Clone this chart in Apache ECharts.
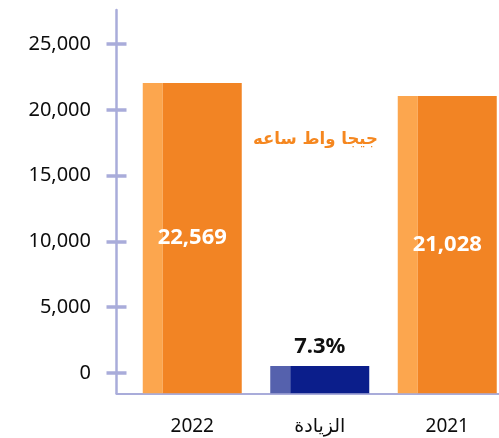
<!DOCTYPE html>
<html>
<head>
<meta charset="utf-8">
<script src="https://cdn.jsdelivr.net/npm/echarts@6/dist/echarts.min.js"></script>
<style>
  html, body { margin: 0; padding: 0; background: #fff; }
  #chart { width: 499px; height: 438px; }
</style>
</head>
<body>
<div id="chart"></div>
<script>
// categories (x axis)
const categories = ['2022', 'الزيادة', '2021']
// bar heights
const barValues = [22040, 530, 21050]
// labels printed on / above the bars
const barLabels = ['22,569', '7.3%', '21,028']
// y axis tick labels range
const tickMin = 0
const tickMax = 25000
const tickStep = 5000
const unitText = 'جيجا واط ساعه'

const axisColor = '#a9acda'
const orange = ['#fca64e', '#f28424']
const blue = ['#5561ad', '#0b1e8b']

const chart = echarts.init(document.getElementById('chart'))

chart.setOption({
  animation: false,
  grid: [
    // main plot area, axis runs a bit below zero
    { left: 116.5, right: 0, top: 10, bottom: 44.7 },
    // exact 0..25000 span, only used for the tick marks and labels
    { left: 116.5, right: 0, top: 44, bottom: 65 }
  ],
  xAxis: [{
    type: 'category',
    gridIndex: 0,
    data: categories,
    axisLine: { onZero: false, lineStyle: { color: axisColor, width: 2 } },
    axisTick: { show: false },
    axisLabel: {
      margin: 24,
      padding: [0, 0, 0, 24],
      color: '#0d0d0d',
      fontSize: 19,
      fontFamily: '"Noto Sans", "DejaVu Sans", sans-serif'
    }
  }, {
    type: 'category',
    gridIndex: 1,
    data: categories,
    show: false
  }],
  yAxis: [{
    type: 'value',
    gridIndex: 0,
    min: -1543,
    max: 27584,
    axisLine: { show: true, lineStyle: { color: axisColor, width: 2.5 } },
    axisTick: { show: false },
    axisLabel: { show: false },
    splitLine: { show: false }
  }, {
    type: 'value',
    gridIndex: 1,
    min: tickMin,
    max: tickMax,
    interval: tickStep,
    offset: -10,
    axisLine: { show: false },
    axisTick: { show: true, length: 20, lineStyle: { color: axisColor, width: 3.5 } },
    axisLabel: {
      margin: 35.5,
      color: '#0d0d0d',
      fontSize: 20,
      fontFamily: '"Noto Sans", sans-serif',
      formatter: v => v.toLocaleString('en-US')
    },
    splitLine: { show: false }
  }],
  graphic: [{
    type: 'text',
    left: 253,
    top: 131,
    style: {
      text: unitText,
      fill: '#f5871f',
      font: 'bold 16.5px "DejaVu Sans", sans-serif'
    }
  }],
  series: [{
    type: 'custom',
    xAxisIndex: 0,
    yAxisIndex: 0,
    data: barValues.map((v, i) => [i, v]),
    renderItem: (params, api) => {
      const idx = params.dataIndex
      const top = api.coord([api.value(0), api.value(1)])
      const cs = params.coordSys
      const bottom = cs.y + cs.height
      const w = 99
      const stripe = 20
      const x = top[0] + 12 - w / 2
      const h = bottom - top[1]
      const pal = idx === 1 ? blue : orange
      const children = [{
        type: 'rect',
        shape: { x: x, y: top[1], width: stripe, height: h },
        style: { fill: pal[0] }
      }, {
        type: 'rect',
        shape: { x: x + stripe, y: top[1], width: w - stripe, height: h },
        style: { fill: pal[1] }
      }]
      if (idx === 1) {
        children.push({
          type: 'text',
          x: x + w / 2,
          y: top[1] - 8,
          style: {
            text: barLabels[idx],
            fill: '#111',
            font: 'bold 22px "Noto Sans", sans-serif',
            align: 'center',
            verticalAlign: 'bottom'
          }
        })
      } else {
        children.push({
          type: 'text',
          x: x + w / 2,
          y: top[1] + h / 2,
          style: {
            text: barLabels[idx],
            fill: '#fff',
            font: 'bold 22px "Noto Sans", sans-serif',
            align: 'center',
            verticalAlign: 'middle'
          }
        })
      }
      return { type: 'group', children: children }
    }
  }]
})
</script>
</body>
</html>
